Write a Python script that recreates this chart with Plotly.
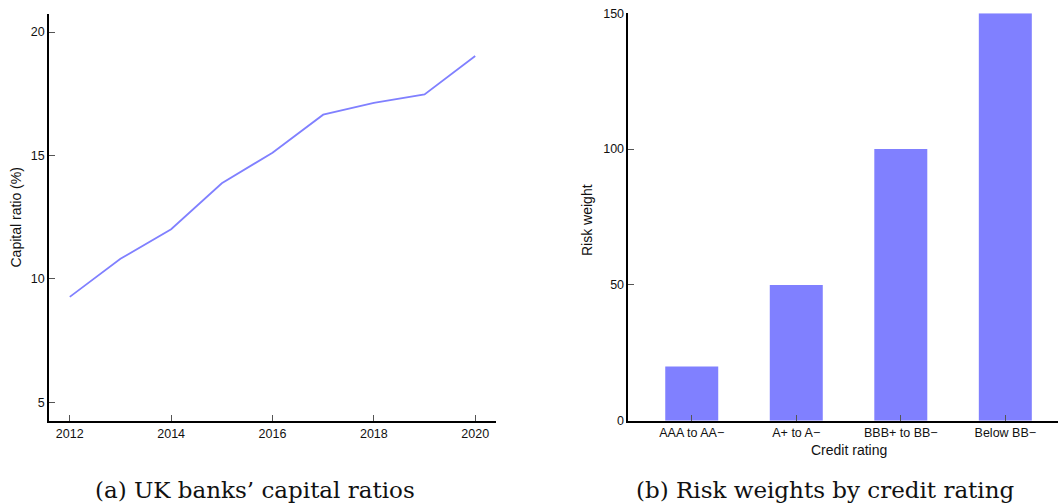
import plotly.graph_objects as go

# Data
years = [2012, 2013, 2014, 2015, 2016, 2017, 2018, 2019, 2020]
capital_ratio = [9.27, 10.81, 12.01, 13.87, 15.11, 16.65, 17.13, 17.47, 19.03]

ratings = ["AAA to AA\u2212", "A+ to A\u2212", "BBB+ to BB\u2212", "Below BB\u2212"]
risk_weights = [20, 50, 100, 150]

year_ticks = [2012, 2014, 2016, 2018, 2020]
ratio_ticks = [5, 10, 15, 20]
weight_ticks = [0, 50, 100, 150]

W, H = 1058, 504
COLOR = "#8080FF"
TICKFONT = dict(family="Liberation Sans, Arial, sans-serif", size=12.5, color="#111111")
TITLEFONT = dict(family="Liberation Sans, Arial, sans-serif", size=14, color="#111111")
SERIF = "DejaVu Serif, Liberation Serif, serif"

fig = go.Figure()

fig.add_trace(go.Scatter(
    x=years, y=capital_ratio, mode="lines",
    line=dict(color=COLOR, width=1.8),
    xaxis="x", yaxis="y", showlegend=False,
))

fig.add_trace(go.Bar(
    x=list(range(len(ratings))), y=risk_weights,
    marker=dict(color=COLOR, line=dict(width=0)),
    width=0.507,
    xaxis="x2", yaxis="y2", showlegend=False,
))

axis_common = dict(
    showline=True, linecolor="#000000", linewidth=1.5,
    ticks="inside", ticklen=6, tickwidth=1.2, tickcolor="#555555",
    showgrid=False, zeroline=False, tickfont=TICKFONT, automargin=False,
)

fig.update_layout(
    template="none",
    width=W, height=H,
    margin=dict(l=0, r=0, t=0, b=0, pad=0),
    paper_bgcolor="white", plot_bgcolor="white",
    xaxis=dict(domain=[49 / W, 496 / W], range=[2011.59, 2020.41],
               tickvals=year_ticks, anchor="y", **axis_common),
    yaxis=dict(domain=[1 - 421 / H, 1 - 14 / H], range=[4.24, 20.73],
               tickvals=ratio_ticks, anchor="x", **axis_common),
    xaxis2=dict(domain=[628.3 / W, 1.0], range=[-0.607, 3.504],
                tickvals=list(range(len(ratings))), ticktext=ratings,
                anchor="y2", **axis_common),
    yaxis2=dict(domain=[1 - 420.7 / H, 1 - 13.3 / H], range=[0, 150],
                tickvals=weight_ticks, anchor="x2", **axis_common),
    annotations=[
        dict(text="Capital ratio (%)", x=15 / W, y=1 - 217.5 / H, xref="paper", yref="paper",
             textangle=-90, showarrow=False, font=TITLEFONT, xanchor="center", yanchor="middle"),
        dict(text="Risk weight", x=587 / W, y=1 - 220 / H, xref="paper", yref="paper",
             textangle=-90, showarrow=False, font=TITLEFONT, xanchor="center", yanchor="middle"),
        dict(text="Credit rating", x=848.5 / W, y=1 - 450 / H, xref="paper", yref="paper",
             showarrow=False, font=TITLEFONT, xanchor="center", yanchor="middle"),
        dict(text="(a) UK banks\u2019 capital ratios", x=255 / W, y=1 - 490 / H,
             xref="paper", yref="paper", showarrow=False,
             font=dict(family=SERIF, size=23, color="#111111"),
             xanchor="center", yanchor="middle"),
        dict(text="(b) Risk weights by credit rating", x=825 / W, y=1 - 490 / H,
             xref="paper", yref="paper", showarrow=False,
             font=dict(family=SERIF, size=23, color="#111111"),
             xanchor="center", yanchor="middle"),
    ],
)

fig.write_html(
    "out.html",
    config={"displayModeBar": False},
    post_script="document.body.style.margin='0';document.body.style.overflow='hidden';",
)
